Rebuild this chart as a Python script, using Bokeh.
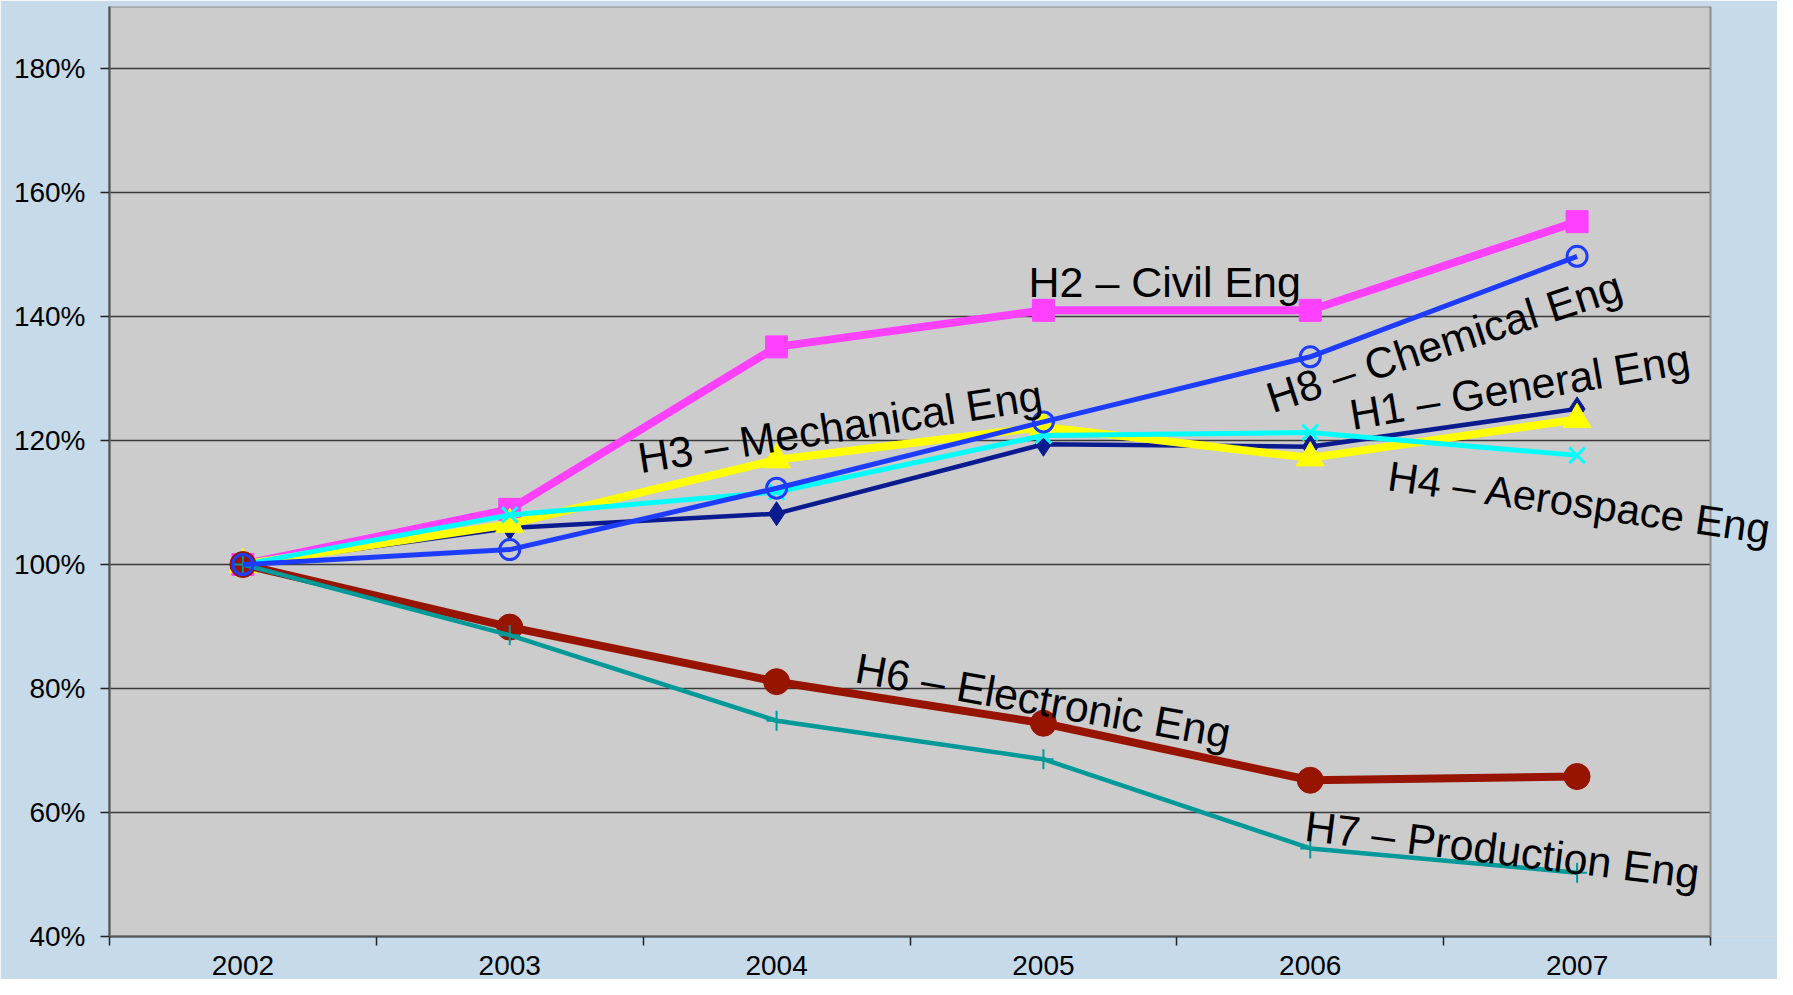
from bokeh.plotting import figure
from bokeh.models import FixedTicker, PrintfTickFormatter, ColumnDataSource, LabelSet, BoxAnnotation
from bokeh.core.properties import value
from bokeh.embed import file_html
from bokeh.resources import INLINE
import math

years = [2002, 2003, 2004, 2005, 2006, 2007]
year_bounds = [2001.5, 2002.5, 2003.5, 2004.5, 2005.5, 2006.5, 2007.5]
y_ticks = [40, 60, 80, 100, 120, 140, 160, 180]

h1_general = [100, 105.9, 108.2, 119.4, 119.0, 125.1]
h2_civil = [100, 108.9, 135.1, 141.0, 141.0, 155.3]
h3_mechanical = [100, 106.5, 116.9, 122.2, 117.2, 123.4]
h4_aerospace = [100, 108.0, 111.7, 120.8, 121.3, 117.6]
h6_electronic = [100, 89.9, 81.1, 74.4, 65.2, 65.8]
h7_production = [100, 88.6, 74.8, 68.6, 54.2, 50.3]
h8_chemical = [100, 102.4, 112.3, 123.0, 133.5, 149.7]

label_text = ["H2 \u2013 Civil Eng", "H3 \u2013 Mechanical Eng", "H8 \u2013 Chemical Eng",
              "H1 \u2013 General Eng", "H4 \u2013 Aerospace Eng", "H6 \u2013 Electronic Eng",
              "H7 \u2013 Production Eng"]
label_x = [2004.944, 2003.49, 2005.859, 2006.158, 2006.285, 2004.288, 2005.975]
label_y = [143.1, 114.7, 124.4, 121.7, 112.0, 81.0, 55.5]
label_angle_deg = [0, 9, 18, 9.5, -8, -10, -7]
label_size = ["43px", "43px", "43px", "43px", "42px", "43px", "43px"]

FONT = "Liberation Sans"
PX_PER_YEAR = 1601 / 6.0

p = figure(width=1777, height=979, output_backend="svg", toolbar_location=None,
           x_range=(2001.5, 2001.5 + 1668 / PX_PER_YEAR), y_range=(40, 40 + 930 / 6.2),
           min_border_left=109, min_border_right=0, min_border_top=6, min_border_bottom=43)
p.background_fill_color = "#CCCCCC"
p.border_fill_color = "#C6DAE9"
p.outline_line_color = None

# axes
p.xaxis.ticker = FixedTicker(ticks=years, minor_ticks=year_bounds)
p.xaxis.bounds = (2001.5, 2007.5)
p.xaxis.major_tick_line_color = None
p.xaxis.major_tick_out = 0
p.xaxis.major_tick_in = 0
p.xaxis.minor_tick_out = 9
p.xaxis.minor_tick_in = 0
p.xaxis.minor_tick_line_color = "#222222"
p.xaxis.minor_tick_line_width = 1.5
p.xaxis.major_label_standoff = 10

p.yaxis.ticker = FixedTicker(ticks=y_ticks, minor_ticks=[])
p.yaxis.formatter = PrintfTickFormatter(format="%d%%")
p.yaxis.major_tick_out = 9
p.yaxis.major_tick_in = 0
p.yaxis.major_tick_line_color = "#222222"
p.yaxis.major_tick_line_width = 1.5
p.yaxis.minor_tick_line_color = None
p.yaxis.major_label_standoff = 15

for ax in (p.xaxis, p.yaxis):
    ax.axis_line_color = "#222222"
    ax.axis_line_width = 2
    ax.major_label_text_font = FONT
    ax.major_label_text_font_size = "28px"
    ax.major_label_text_color = "#000000"

p.xgrid.grid_line_color = None
p.ygrid.ticker = FixedTicker(ticks=y_ticks)
p.ygrid.grid_line_color = "#3a3a3a"
p.ygrid.grid_line_width = 1.5

# series in Excel order
p.line(years, h1_general, line_color="#0A1A8F", line_width=4.5)
p.scatter(years, h1_general, marker="diamond", size=24, fill_color="#0A1A8F", line_color="#0A1A8F")
p.line(years, h2_civil, line_color="#FF40FF", line_width=8)
p.scatter(years, h2_civil, marker="square", size=22, fill_color="#FF40FF", line_color="#FF40FF")
p.line(years, h3_mechanical, line_color="#FFFF00", line_width=8)
p.scatter(years, h3_mechanical, marker="triangle", size=28, fill_color="#FFFF00", line_color="#FFFF00")
p.line(years, h4_aerospace, line_color="#00FFFF", line_width=5)
p.scatter(years, h4_aerospace, marker="x", size=22, line_color="#00FFFF", line_width=3)
p.line(years, h6_electronic, line_color="#961400", line_width=8)
p.scatter(years, h6_electronic, marker="circle", size=26, fill_color="#961400", line_color="#961400")
p.line(years, h7_production, line_color="#009999", line_width=4.5)
p.scatter(years, h7_production, marker="cross", size=20, line_color="#009999", line_width=2)
p.line(years, h8_chemical, line_color="#1E3CFF", line_width=5)
p.scatter(years, h8_chemical, marker="circle", size=20, fill_color=None, line_color="#1E3CFF", line_width=3)

# area right of the plot frame painted as page background, and frame border
p.add_layout(BoxAnnotation(left=2007.5, fill_color="#C6DAE9", fill_alpha=1.0, line_color=None))
p.add_layout(BoxAnnotation(left=2001.5, right=2007.5, fill_color=None, fill_alpha=0,
                           line_color="#8c8c8c", line_width=2, line_alpha=1.0))

labels = ColumnDataSource(dict(x=label_x, y=label_y, text=label_text, size=label_size,
                               angle=[math.radians(a) for a in label_angle_deg]))
p.add_layout(LabelSet(x="x", y="y", text="text", angle="angle", source=labels,
                      text_font=value(FONT), text_font_size="size", text_color="#000000",
                      text_align="left", text_baseline="alphabetic"))

open("out.html", "w").write(file_html(p, INLINE))
